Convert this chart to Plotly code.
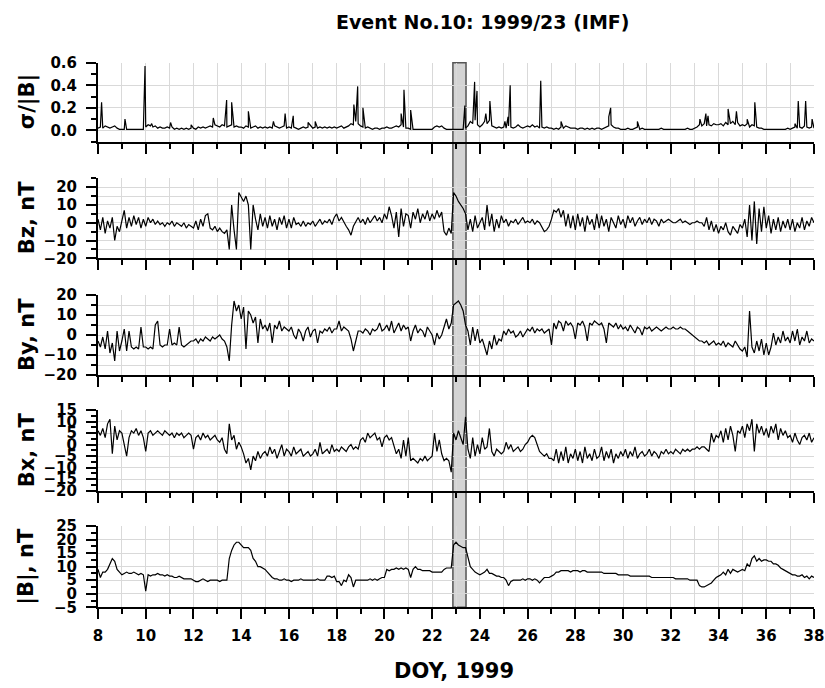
import plotly.graph_objects as go

# ---------------- data ----------------
DOY_START = 8.0
STEP = 0.1

bz = [
    2, -4, 3, -6, 1, -3, 3, -10, -2, -5,      # 8
    1, 7, -3, 3, -2, 4, -1, 3, -3, 2,         # 9
    -2, 3, 0, 2, -1, 1, -1, 0, -2, 0,         # 10
    -1, 1, -2, 0, -1, -2, 0, -3, -1, -2,      # 11
    -3, 1, -4, 2, -2, 4, 5, -3, -4, -2,       # 12
    -5, -3, -5, -6, -4, -15, 10, -4, -15, 17, # 13
    14, 12, 15, 10, -15, 10, 2, -4, 5, -2,    # 14
    3, -3, 4, -2, 2, -4, 3, -1, 4, -3,        # 15
    2, -3, 3, -1, 0, -2, 1, -2, 0, -1,        # 16
    1, -2, 0, 2, -1, 1, 0, 2, -1, 3,          # 17
    5, 1, 3, 0, -2, -4, -7, -2, 1, 3,         # 18
    0, 2, -1, 3, 0, 2, 4, 1, 3, 0,            # 19
    5, 2, 9, 4, -3, 6, -8, 8, -2, 5,          # 20
    4, -3, 6, 2, 8, 0, 5, 2, 7, 1,            # 21
    5, 2, 7, 3, 6, -5, -7, -3, -6, 17,        # 22
    15, 12, 10, 8, 5, -4, 2, -5, 4, -3,       # 23
    0, 3, -4, 10, -2, 5, -5, 2, -3, 4,        # 24
    0, 2, -2, 1, 0, 2, -1, 1, 3, 0,           # 25
    1, 0, 2, -1, 1, 0, -3, -5, -4, -2,        # 26
    2, 7, 6, 8, 3, 7, -2, 5, -3, 4,           # 27
    -4, 5, -2, 3, -5, 4, -1, 2, -4, 5,        # 28
    -3, 4, -2, 2, -5, 3, 0, -3, 4, -1,        # 29
    2, -3, 4, 0, 3, -2, 1, 3, -1, 2,          # 30
    0, 3, -1, 2, 1, -2, 2, 0, 1, 2,           # 31
    1, 0, 0, 1, 2, 0, 1, 0, -1, 0,            # 32
    0, 1, 0, 0, -2, 3, -4, 1, -5, -1,         # 33
    -6, -2, -4, 0, -5, -7, -2, -4, -6, -1,    # 34
    -3, 2, -8, 10, -10, 12, -12, 8, -5, 9,    # 35
    -3, 4, -6, 2, -4, 3, -5, 1, -3, 2,        # 36
    -4, 2, -5, 0, -3, 3, -4, 1, -2, 3,        # 37
    0,
]

by = [
    -3, -6, -1, -7, 2, -9, -4, -13, 2, -8,    # 8
    -3, 3, -8, 2, -6, -7, -6, -7, 4, -6,      # 9
    -6, -7, -6, -7, 5, 7, -5, -6, -5, -5,     # 10
    3, -5, -4, -5, 4, -5, -6, -5, -4, -3,     # 11
    -3, -2, -4, -2, -3, -1, -2, -3, -1, -2,   # 12
    -1, 0, -2, -3, -6, -13, 5, 17, 12, 15,    # 13
    8, 14, -7, 12, 10, 6, 9, -4, 8, 3,        # 14
    5, 2, 6, -4, 5, 3, 7, 2, 4, 3,            # 15
    2, 4, 0, -2, 3, 1, -3, 2, 4, -1,          # 16
    2, 3, -4, 2, 1, 3, 2, 4, 1, 3,            # 17
    3, 7, 2, 4, 3, 2, -2, -8, -3, 2,          # 18
    2, 1, 3, 2, 0, 3, 2, 3, 6, 2,             # 19
    3, 5, 2, 7, 1, 4, 6, 2, 5, 3,             # 20
    4, -3, 2, 5, 1, 3, 2, -1, 4, 2,           # 21
    0, -5, 1, -2, 0, 4, 8, 3, 6, 15,          # 22
    16, 17, 15, 12, 5, 2, -5, 4, -3, 3,       # 23
    -4, -2, -6, -10, -3, -7, 0, -5, -2, -3,   # 24
    2, 0, 3, 1, 2, -1, 0, 2, -1, 1,           # 25
    3, 2, 4, 1, 3, 2, 3, 1, 2, 3,             # 26
    -5, 6, 3, 7, 6, 2, 7, 5, 6, 4,            # 27
    -2, 6, 5, 7, 4, -3, 6, 5, 7, 6,           # 28
    5, 6, 3, -4, 6, 5, 4, 6, 3, 5,            # 29
    3, 4, 2, 5, 3, 1, 4, 3, 0, 4,             # 30
    3, 4, 2, 3, 4, 3, 2, 3, 4, 3,             # 31
    3, 4, 3, 3, 4, 3, 3, 2, 1, 0,             # 32
    -1, -2, -3, -3, -4, -3, -5, -4, -3, -5,   # 33
    -4, -5, -3, -6, -4, -5, -6, -3, -5, -7,   # 34
    -8, -6, -11, 12, -6, -9, -3, -8, -2, -10, # 35
    -4, -10, -6, 1, -5, -1, -4, 2, -3, -1,    # 36
    -4, 2, -3, 3, -5, -1, -3, 2, -4, -2,      # 37
    -3,
]

bx = [
    6, 4, 7, 3, 9, 11, -4, 8, 2, 6,           # 8
    5, 0, -5, 3, 6, 5, 7, 4, 6, 3,            # 9
    -3, 5, 6, 4, 5, 6, 5, 4, 6, 5,            # 10
    4, 5, 3, 5, 4, 5, 3, 4, 5, 4,             # 11
    -2, 3, 4, 2, 5, 3, 4, 2, 3, 4,            # 12
    2, 1, 3, -2, -4, 9, 2, 4, -2, 1,          # 13
    -1, -4, -8, -6, -11, -5, -7, -3, -6, -4,  # 14
    -3, -5, -1, -4, -2, -6, -3, 0, -5, -2,    # 15
    -3, -5, -1, -4, -3, -2, -5, -4, -3, -5,   # 16
    -4, -2, -5, 1, -4, -3, -2, -4, 0, -3,     # 17
    -2, -3, -1, -2, -3, -1, 0, -2, -1, -2,    # 18
    2, 3, 1, 5, 3, 4, 5, 2, 3, -1,            # 19
    3, 4, 2, 3, -1, -4, -2, -6, 2, -5,        # 20
    3, -7, -6, -7, -8, -6, -7, -5, -7, -6,    # 21
    -5, 5, -3, 2, -4, -7, -6, -7, -12, 5,     # 22
    2, 6, 3, 0, 12, -2, -6, 3, -5, 0,         # 23
    -4, 3, -2, -1, 7, -3, -5, -2, -3, -4,     # 24
    -3, 1, -2, 0, -3, -2, -1, -3, -2, 0,      # 25
    1, 3, 4, 3, 0, -3, -4, -5, -4, -6,        # 26
    -6, -7, -2, -8, -3, -7, -1, -8, -4, -6,   # 27
    -2, -7, -3, -8, -1, -6, -4, -7, -2, -6,   # 28
    -5, -1, -7, -3, -6, -2, -8, -4, -6, -3,   # 29
    -5, -2, -6, -3, -5, -1, -6, -4, -3, -5,   # 30
    -4, -2, -5, -3, -4, -6, -3, -4, -2, -4,   # 31
    -3, -4, -2, -3, -4, -2, -3, -2, -3, -2,   # 32
    -2, -1, -2, -1, -1, -2, -3, 5, 1, 4,      # 33
    3, 6, 1, 7, 2, 8, 4, -3, 6, 5,            # 34
    8, 3, 9, 6, 11, -3, 9, 5, 8, 4,           # 35
    7, 3, 8, 5, 9, 2, 7, 4, 6, 3,             # 36
    4, 1, 5, 2, 0, 3, 4, 2, 5, 1,             # 37
    3,
]

bmag = [
    9, 6, 8, 8, 9, 11, 13, 12, 9, 8,                          # 8
    7, 7.5, 8, 7.5, 7.5, 8, 7.5, 7, 7.5, 7,                   # 9
    1, 7, 6.5, 7, 7, 7.5, 7, 7, 6.5, 7,                       # 10
    6.5, 6.5, 6, 6, 6.5, 6, 5.5, 5.5, 5.5, 5.5,               # 11
    5, 4.5, 4.5, 5, 5.5, 5, 4.5, 5, 5, 5,                     # 12
    5, 4.5, 5, 5, 5, 13, 16, 18, 19, 19,                      # 13
    18, 17, 17, 17, 16, 13, 12, 10, 10, 9.5,                  # 14
    9, 8, 7, 6, 5.5, 5.5, 5, 5, 5.5, 5,                       # 15
    5, 4.5, 5, 5, 5, 5.5, 5, 5, 5, 5,                         # 16
    5, 5, 5.5, 5, 5, 5, 6.5, 6.5, 6, 6.5,                     # 17
    4.5, 4.5, 3, 5, 4.5, 7, 6, 2.5, 5, 5,                     # 18
    5, 5, 5, 5, 5.5, 5, 5.5, 5, 5.5, 6,                       # 19
    6, 9, 8.5, 9, 9, 9.5, 9, 9.5, 9, 9.5,                     # 20
    9, 6, 9, 10, 9, 9, 8.5, 8.5, 8.5, 8.5,                    # 21
    8, 8, 8, 8, 8, 9, 9.5, 9.5, 9.5, 18,                      # 22
    19, 18, 17.5, 17, 17, 13, 10, 9, 8, 7.5,                  # 23
    7, 7.5, 8, 9, 7.5, 7.5, 7, 6.5, 6.5, 6,                   # 24
    6, 5, 3, 4.5, 5, 5, 5, 5, 5.5, 5,                         # 25
    5.5, 5.5, 5, 5.5, 5, 4, 5, 6, 6, 6,                       # 26
    6.5, 7, 8, 8, 8.5, 8.5, 8.5, 8.5, 8, 8.5,                 # 27
    8.5, 8.5, 8, 8.5, 8.5, 8, 8, 8, 8, 8,                     # 28
    8, 8, 7.5, 7.5, 7.5, 7.5, 7.5, 7.5, 7, 7,                 # 29
    7, 7, 7, 6.5, 6.5, 6.5, 6.5, 6.5, 6.5, 6.5,               # 30
    6.5, 6.5, 6, 6, 6, 6, 6, 6, 6, 6,                         # 31
    6, 6, 5.5, 5.5, 5.5, 5.5, 5.5, 5.5, 5, 5,                 # 32
    5, 5, 3, 2.5, 2.5, 3, 3.5, 4, 5, 6,                       # 33
    6.5, 7, 8, 7, 9, 7.5, 9, 8.5, 8, 8.5,                     # 34
    9, 8.5, 11, 10, 13, 14, 12, 13, 12, 12.5,                 # 35
    12.5, 12, 12, 11, 11, 10.5, 9.5, 9, 8.5, 8,               # 36
    7.5, 7, 7, 6.5, 6.5, 7, 6, 6.5, 5.5, 6.5,                 # 37
    6,
]

# sigma/|B| background level, in hundredths
sigma_base = [
    2, 3, 2, 4, 3, 2, 3, 4, 2, 1,   # 8
    1, 1, 1, 1, 1, 1, 1, 1, 1, 1,   # 9
    3, 5, 4, 3, 4, 2, 3, 2, 2, 3,   # 10
    2, 3, 1, 2, 1, 2, 1, 2, 1, 2,   # 11
    2, 1, 3, 2, 3, 2, 3, 4, 3, 5,   # 12
    4, 3, 5, 4, 3, 4, 5, 3, 4, 3,   # 13
    3, 2, 4, 3, 2, 3, 4, 2, 3, 2,   # 14
    3, 2, 3, 2, 4, 3, 2, 3, 4, 2,   # 15
    3, 2, 3, 2, 1, 2, 3, 2, 3, 4,   # 16
    2, 3, 2, 3, 2, 3, 2, 3, 2, 3,   # 17
    2, 3, 4, 2, 3, 4, 6, 5, 8, 6,   # 18
    4, 3, 2, 3, 2, 1, 2, 2, 1, 2,   # 19
    2, 3, 2, 2, 3, 4, 3, 5, 3, 2,   # 20
    2, 1, 1, 1, 1, 1, 1, 1, 1, 1,   # 21
    1, 3, 4, 3, 4, 2, 1, 1, 1, 1,   # 22
    1, 1, 1, 1, 2, 4, 8, 6, 9, 5,   # 23
    3, 5, 8, 6, 9, 4, 3, 2, 3, 2,   # 24
    3, 2, 4, 3, 2, 3, 5, 3, 2, 3,   # 25
    4, 3, 5, 3, 4, 2, 3, 2, 3, 2,   # 26
    2, 1, 2, 1, 3, 2, 4, 3, 2, 2,   # 27
    2, 1, 2, 2, 1, 2, 1, 2, 1, 2,   # 28
    2, 1, 2, 3, 4, 5, 3, 2, 2, 1,   # 29
    1, 1, 2, 1, 1, 2, 3, 1, 2, 1,   # 30
    1, 1, 1, 1, 1, 1, 2, 1, 1, 1,   # 31
    1, 1, 1, 1, 1, 1, 1, 2, 1, 1,   # 32
    2, 3, 5, 4, 6, 4, 5, 4, 6, 5,   # 33
    5, 6, 4, 7, 5, 6, 8, 5, 7, 4,   # 34
    5, 4, 6, 3, 5, 4, 3, 2, 2, 1,   # 35
    1, 1, 1, 1, 1, 1, 1, 1, 1, 2,   # 36
    1, 2, 3, 2, 3, 2, 4, 3, 2, 3,   # 37
    2,
]

spike_doy = [8.15, 9.13, 9.97, 10.25, 11.04, 11.9, 12.83, 13.39, 13.6, 14.3,
             15.35, 15.84, 16.18, 16.8, 17.1, 18.72, 18.88, 19.1, 20.7, 20.82,
             21.1, 23.37, 23.78, 23.88, 24.25, 24.42, 25.05, 25.18, 25.27, 26.55,
             27.4, 29.4, 29.48, 30.6, 33.22, 33.47, 33.56, 34.4, 34.75, 35.2,
             35.52, 37.2, 37.34, 37.65, 37.92]
spike_val = [0.25, 0.10, 0.57, 0.06, 0.07, 0.05, 0.11, 0.27, 0.25, 0.17,
             0.08, 0.15, 0.13, 0.07, 0.08, 0.23, 0.39, 0.20, 0.15, 0.36,
             0.18, 0.22, 0.43, 0.35, 0.15, 0.26, 0.08, 0.12, 0.40, 0.44,
             0.08, 0.12, 0.20, 0.08, 0.10, 0.15, 0.13, 0.19, 0.17, 0.10,
             0.25, 0.06, 0.26, 0.26, 0.10]

event_start, event_end = 22.87, 23.42

panel_titles = ["σ/|B|", "Bz, nT", "By, nT", "Bx, nT", "|B|, nT"]

# ---------------- build ----------------
doy = [round(DOY_START + i * STEP, 2) for i in range(len(bz))]

pts = [(t, v / 100.0) for t, v in zip(doy, sigma_base)] + list(zip(spike_doy, spike_val))
pts.sort(key=lambda p: p[0])
sig_x = [p[0] for p in pts]
sig_y = [p[1] for p in pts]

W, H = 825, 688
X_L, X_R = 98, 814
# (top px, bottom px, range, major dtick, minor dtick, tickformat)
panels = [
    (62.7, 141.7, [-0.1, 0.6], 0.2, 0.1, ".1f"),
    (178.3, 258.3, [-20, 25], 10, 5, "d"),
    (295.0, 375.0, [-20, 20], 10, 5, "d"),
    (410.0, 490.7, [-20, 15], 5, 2.5, "d"),
    (526.0, 607.3, [-5, 25], 5, 2.5, "d"),
]
series = [(sig_x, sig_y), (doy, bz), (doy, by), (doy, bx), (doy, bmag)]

FONT = "DejaVu Sans"
GRID = "#d9d9d9"

fig = go.Figure()
layout = dict(
    template="none",
    width=W, height=H,
    margin=dict(l=0, r=0, t=0, b=0, pad=0, autoexpand=False),
    paper_bgcolor="white",
    plot_bgcolor="rgba(0,0,0,0)",
    showlegend=False,
    font=dict(family=FONT, color="black"),
)

for i, ((top, bot, rng, dt, mdt, fmt), (xs, ys)) in enumerate(zip(panels, series)):
    n = i + 1
    xa = "x" if n == 1 else f"x{n}"
    ya = "y" if n == 1 else f"y{n}"
    fig.add_trace(go.Scatter(x=xs, y=ys, mode="lines", xaxis=xa, yaxis=ya,
                             line=dict(color="black", width=1.2)))
    last = (n == 5)
    xkey = "xaxis" if n == 1 else f"xaxis{n}"
    ykey = "yaxis" if n == 1 else f"yaxis{n}"
    layout[xkey] = dict(
        domain=[X_L / W, X_R / W], anchor=ya, range=[8, 38], automargin=False,
        tick0=8, dtick=2, ticks="outside", ticklen=10, tickwidth=2, tickcolor="black",
        showline=True, linecolor="black", linewidth=2, mirror=False,
        showgrid=True, gridcolor=GRID, gridwidth=1, zeroline=False,
        minor=dict(dtick=1, tick0=8, ticks="outside", ticklen=5, tickwidth=2,
                   tickcolor="black", showgrid=True, gridcolor=GRID, gridwidth=1),
        showticklabels=last,
        tickfont=dict(family=FONT, size=15, color="black", weight="bold"),
        ticklabelstandoff=4,
    )
    ydom = [1 - bot / H, 1 - top / H]
    yminor = dict(dtick=mdt, tick0=0, ticks="outside", ticklen=5, tickwidth=2,
                  tickcolor="black", showgrid=(n in (2, 3)), gridcolor=GRID, gridwidth=1)
    layout[ykey] = dict(
        domain=ydom, anchor=xa, range=rng, automargin=False,
        tick0=0, dtick=dt, tickformat=fmt, ticks="outside", ticklen=10, tickwidth=2,
        tickcolor="black", showline=True, linecolor="black", linewidth=2, mirror=False,
        showgrid=True, gridcolor=GRID, gridwidth=1, zeroline=False,
        minor=yminor,
        tickfont=dict(family=FONT, size=15, color="black", weight="bold"),
        ticklabelstandoff=6,
    )

annotations = []
for (top, bot, *_), title in zip(panels, panel_titles):
    annotations.append(dict(
        text=title, xref="paper", yref="paper", x=27 / W, y=1 - (top + bot) / 2 / H,
        showarrow=False, textangle=-90, xanchor="center", yanchor="middle",
        font=dict(family=FONT, size=21, color="black", weight="bold")))
annotations.append(dict(
    text="Event No.10: 1999/23 (IMF)", xref="paper", yref="paper",
    x=483 / W, y=1 - 22 / H, showarrow=False, xanchor="center", yanchor="middle",
    font=dict(family=FONT, size=19, color="black", weight="bold")))
annotations.append(dict(
    text="DOY, 1999", xref="paper", yref="paper",
    x=454 / W, y=1 - 671 / H, showarrow=False, xanchor="center", yanchor="middle",
    font=dict(family=FONT, size=21, color="black", weight="bold")))
layout["annotations"] = annotations

layout["shapes"] = [dict(
    type="rect", xref="x5", yref="paper",
    x0=event_start, x1=event_end,
    y0=1 - panels[4][1] / H, y1=1 - panels[0][0] / H,
    fillcolor="#d4d4d4", line=dict(color="#555555", width=1.5), layer="below")]

fig.update_layout(**layout)
fig.write_html("out.html")
